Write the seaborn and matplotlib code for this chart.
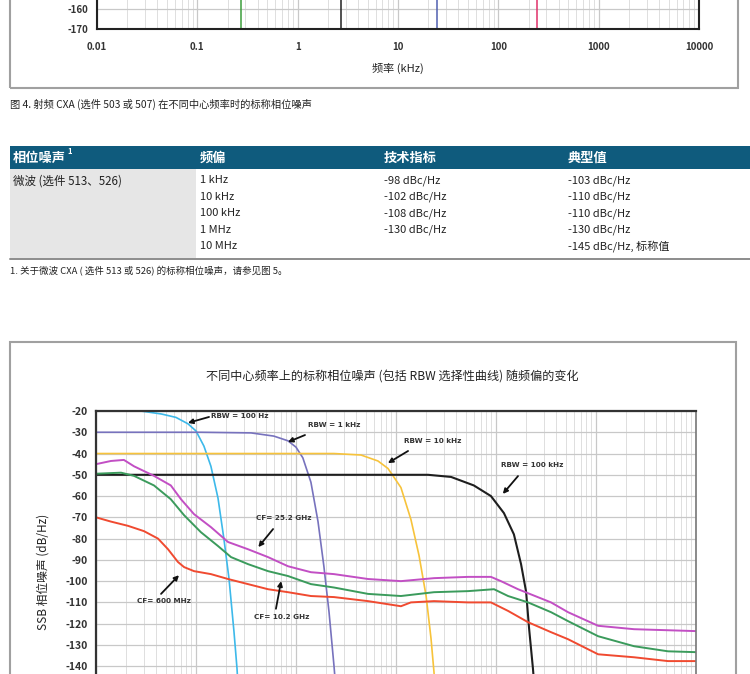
import pandas as pd
import matplotlib
matplotlib.use('Agg')
import matplotlib.pyplot as plt
import seaborn as sns
from matplotlib.patches import Rectangle
from matplotlib.lines import Line2D
from matplotlib.ticker import LogLocator, NullFormatter

# ---- data ----
top_ticks = [0.01, 0.1, 1, 10, 100, 1000, 10000]
top_tick_labels = ['0.01', '0.1', '1', '10', '100', '1000', '10000']
top_cutoff_khz = [0.275, 2.7, 24.5, 245]
top_cutoff_colors = ['#3c9e3c', '#222222', '#4f5fb0', '#e0306a']

table_header = ['相位噪声', '频偏', '技术指标', '典型值']
table_row_name = '微波 (选件 513、526)'
table_offsets = ['1 kHz', '10 kHz', '100 kHz', '1 MHz', '10 MHz']
table_spec = ['-98 dBc/Hz', '-102 dBc/Hz', '-108 dBc/Hz', '-130 dBc/Hz', '']
table_typ = ['-103 dBc/Hz', '-110 dBc/Hz', '-110 dBc/Hz', '-130 dBc/Hz', '-145 dBc/Hz, 标称值']

rbw_100hz_f = [0.01, 0.028, 0.045, 0.063, 0.083, 0.1, 0.12, 0.141, 0.166, 0.19, 0.214, 0.24, 0.257, 0.28]
rbw_100hz_db = [-20, -20, -21.4, -23, -26, -29.4, -36.5, -46, -61, -80, -99, -124, -141, -170]
rbw_1khz_f = [0.01, 0.112, 0.355, 0.60, 0.83, 1.0, 1.17, 1.41, 1.66, 1.9, 2.14, 2.4, 2.7]
rbw_1khz_db = [-30, -30, -30.3, -31.8, -34, -37, -42, -53.5, -72, -93, -114.6, -140, -170]
rbw_10khz_f = [0.01, 1.12, 2.4, 4.47, 6.6, 8.3, 9.5, 11.2, 14.1, 17, 20, 22.4, 24, 26.3]
rbw_10khz_db = [-40, -40, -40, -40.7, -43.5, -47, -51, -56, -71, -88, -107, -127, -143, -170]
rbw_100khz_f = [0.01, 20.9, 35.5, 60, 89, 120, 151, 178, 200, 214, 234, 263]
rbw_100khz_db = [-50, -50, -51, -55, -60, -68, -78, -92, -105, -122, -141, -170]

cf_25g_f = [0.01, 0.0141, 0.019, 0.024, 0.038, 0.056, 0.0708, 0.0955, 0.141, 0.209, 0.331, 0.525,
            0.832, 1.41, 2.4, 5.25, 11.2, 24, 52.5, 89, 112, 166, 355, 525, 1050, 2400, 10000]
cf_25g_db = [-45, -43.5, -43, -46, -50.5, -55, -61.5, -68.5, -74.6, -81.6, -85, -88.7,
             -93, -95.8, -96.7, -99, -100, -98.6, -98, -98, -100, -103.8, -110, -114.6, -121, -122.6, -123.5]
cf_10g_f = [0.01, 0.0178, 0.024, 0.038, 0.056, 0.076, 0.112, 0.166, 0.224, 0.331, 0.525, 0.832,
            1.41, 2.4, 5.25, 11.2, 24, 52.5, 95.5, 132, 209, 355, 525, 1050, 2400, 5250, 10000]
cf_10g_db = [-49.5, -49, -50.5, -55, -61.5, -69, -77, -83.5, -88.7, -92, -95.3, -97.6,
             -101.4, -103, -106, -107, -105.2, -104.7, -103.8, -107, -110, -114.6, -118.8, -125.9, -130.6, -133, -133.4]
cf_600m_f = [0.01, 0.0141, 0.0209, 0.0302, 0.0417, 0.0525, 0.066, 0.076, 0.0955, 0.141, 0.209, 0.331,
             0.525, 0.832, 1.41, 2.4, 5.25, 11.2, 14.1, 24, 52.5, 89, 132, 209, 355, 525, 1050, 2400, 5250, 10000]
cf_600m_db = [-70, -72, -74, -76.5, -80, -85, -91, -93.4, -95.3, -96.7, -99, -101.4,
              -103.8, -105.2, -107, -107.5, -109.4, -111.8, -110, -109.4, -110, -110, -114, -119.3, -124, -127.3,
              -134.4, -135.8, -137.6, -137.6]

traces = {
    'RBW = 100 Hz': (rbw_100hz_f, rbw_100hz_db),
    'RBW = 1 kHz': (rbw_1khz_f, rbw_1khz_db),
    'RBW = 10 kHz': (rbw_10khz_f, rbw_10khz_db),
    'RBW = 100 kHz': (rbw_100khz_f, rbw_100khz_db),
    'CF= 25.2 GHz': (cf_25g_f, cf_25g_db),
    'CF= 10.2 GHz': (cf_10g_f, cf_10g_db),
    'CF= 600 MHz': (cf_600m_f, cf_600m_db),
}
palette = {
    'RBW = 100 Hz': '#3db9ea',
    'RBW = 1 kHz': '#7772bd',
    'RBW = 10 kHz': '#f7c33b',
    'RBW = 100 kHz': '#1e1e1e',
    'CF= 25.2 GHz': '#c24fc4',
    'CF= 10.2 GHz': '#3b9b5c',
    'CF= 600 MHz': '#f04a30',
}
widths = {'RBW = 100 kHz': 1.5, 'CF= 25.2 GHz': 1.4, 'CF= 10.2 GHz': 1.4, 'CF= 600 MHz': 1.4}

rows = []
for name, (fs, dbs) in traces.items():
    for f, d in zip(fs, dbs):
        rows.append({'trace': name, 'offset_khz': f, 'noise': d})
df = pd.DataFrame(rows)

sns.set_style('white')
plt.rcParams['font.family'] = ['Noto Sans CJK SC', 'DejaVu Sans']
plt.rcParams['axes.unicode_minus'] = False

W, H = 750, 674
def fx(x):
    return x / W
def fy(y):
    return 1 - y / H

fig = plt.figure(figsize=(7.5, 6.74), dpi=100)
narrow = ['Liberation Sans Narrow', 'Noto Sans CJK SC', 'DejaVu Sans']


def style_log_axes(ax):
    ax.set_xscale('log')
    ax.set_xlim(0.01, 10000)
    ax.xaxis.set_major_locator(LogLocator(base=10))
    ax.xaxis.set_minor_locator(LogLocator(base=10, subs=range(2, 10)))
    ax.xaxis.set_minor_formatter(NullFormatter())
    ax.grid(True, which='major', color='#c8c8c8', lw=0.9)
    ax.grid(True, which='minor', axis='x', color='#dedede', lw=0.7)
    ax.tick_params(which='both', length=0)
    ax.set_axisbelow(True)


# ---- partial chart at the top of the page ----
ax1 = fig.add_axes([fx(97), fy(29), fx(602), 30 / H])
style_log_axes(ax1)
ax1.set_ylim(-170, -155)
ax1.set_yticks([-170, -160])
ax1.set_yticklabels(['-170', '-160'], fontsize=7, fontweight='bold', color='#333333')
ax1.set_xticks(top_ticks)
ax1.set_xticklabels(top_tick_labels, fontsize=7, fontweight='bold', color='#333333')
ax1.tick_params(axis='x', pad=9)
ax1.tick_params(axis='y', pad=6)
ax1.vlines(top_cutoff_khz, -170, -150, colors=top_cutoff_colors, lw=1.1)
for s in ax1.spines.values():
    s.set_color('#222222')
    s.set_linewidth(1.5)
fig.text(fx(398), fy(68), '频率 (kHz)', ha='center', va='center', fontsize=8, color='#222222')
fig.add_artist(Rectangle((fx(10), fy(88)), fx(728), 0.3, transform=fig.transFigure,
                         fill=False, ec='#a0a0a0', lw=1.5))
fig.text(fx(10), fy(104), '图 4. 射频 CXA (选件 503 或 507) 在不同中心频率时的标称相位噪声',
         ha='left', va='center', fontsize=7.4, color='#222222')

# ---- table ----
fig.add_artist(Rectangle((fx(10), fy(169)), fx(740), 23 / H, transform=fig.transFigure,
                         fc='#0f5b7d', ec='none'))
fig.add_artist(Rectangle((fx(10), fy(258)), fx(186), 89 / H, transform=fig.transFigure,
                         fc='#e6e6e6', ec='none'))
fig.add_artist(Line2D([fx(10), 1], [fy(258.5), fy(258.5)], transform=fig.transFigure,
                      color='#8c8c8c', lw=1.4))
col_x = [13, 200, 384, 568]
for x, h in zip(col_x, table_header):
    fig.text(fx(x), fy(158), h, ha='left', va='center', fontsize=9.5, fontweight='bold', color='white')
fig.text(fx(67), fy(152), '1', ha='left', va='center', fontsize=5.5, fontweight='bold', color='white')
fig.text(fx(13), fy(181), table_row_name, ha='left', va='center', fontsize=8.3, color='#222222', family=narrow)
row_y = [180.5, 197, 213.5, 229.5, 246]
for y, a, b, c in zip(row_y, table_offsets, table_spec, table_typ):
    fig.text(fx(200), fy(y), a, ha='left', va='center', fontsize=8, color='#222222', family=narrow)
    fig.text(fx(384), fy(y), b, ha='left', va='center', fontsize=8, color='#222222', family=narrow)
    fig.text(fx(568), fy(y), c, ha='left', va='center', fontsize=8, color='#222222', family=narrow)
fig.text(fx(10), fy(271), '1. 关于微波 CXA ( 选件 513 或 526) 的标称相位噪声，请参见图 5。',
         ha='left', va='center', fontsize=6.8, style='italic', color='#222222')

# ---- second chart ----
fig.add_artist(Rectangle((fx(10), fy(720)), fx(726), (720 - 342) / H, transform=fig.transFigure,
                         fill=False, ec='#a0a0a0', lw=1.5))
fig.text(fx(392), fy(377), '不同中心频率上的标称相位噪声 (包括 RBW 选择性曲线) 随频偏的变化',
         ha='center', va='center', fontsize=8.7, color='#222222')

ax2 = fig.add_axes([fx(96), fy(730), fx(600), 319 / H])
sns.lineplot(data=df, x='offset_khz', y='noise', hue='trace', palette=palette,
             estimator=None, sort=False, legend=False, lw=1.2, ax=ax2)
for line, name in zip(ax2.get_lines(), traces):
    line.set_linewidth(widths.get(name, 1.2))
style_log_axes(ax2)
ax2.set_ylim(-170, -20)
ax2.set_yticks(range(-140, -19, 10))
ax2.set_yticklabels([str(v) for v in range(-140, -19, 10)], fontsize=7.5, fontweight='bold', color='#333333')
ax2.tick_params(axis='y', pad=6)
ax2.set_xticklabels([])
ax2.set_xlabel('')
ax2.set_ylabel('')
for side in ['top', 'left']:
    ax2.spines[side].set_color('#333333')
    ax2.spines[side].set_linewidth(1.6)
ax2.spines['right'].set_color('#777777')
ax2.spines['right'].set_linewidth(1.2)
fig.text(fx(43), fy(572), 'SSB 相位噪声 (dB/Hz)', rotation=90, ha='center', va='center',
         fontsize=8.5, color='#222222')

# labels with arrows: (text pos, arrow tail, arrow head)
notes = [
    ('RBW = 100 Hz', (0.141, -22.4), (0.135, -22.8), (0.083, -25.6)),
    ('RBW = 1 kHz', (1.32, -26.6), (1.23, -31.3), (0.83, -34.6)),
    ('RBW = 10 kHz', (12, -34.1), (13.2, -38.8), (8.3, -44.5)),
    ('RBW = 100 kHz', (112, -45.4), (166, -50.6), (117, -59)),
    ('CF= 25.2 GHz', (0.4, -70.4), (0.59, -75.5), (0.42, -84)),
    ('CF= 600 MHz', (0.0257, -109.4), (0.0447, -106), (0.0676, -97.2)),
    ('CF= 10.2 GHz', (0.38, -117), (0.63, -113), (0.71, -100)),
]
for txt, pos, tail, head in notes:
    ax2.text(pos[0], pos[1], txt, ha='left', va='center', fontsize=5.2, fontweight='bold',
             color='#333333', family=['DejaVu Sans'])
    ax2.annotate('', xy=head, xytext=tail,
                 arrowprops=dict(arrowstyle='-|>', color='#111111', lw=1.3, mutation_scale=7,
                                 shrinkA=0, shrinkB=0))

fig.savefig('out.png', dpi=100)
